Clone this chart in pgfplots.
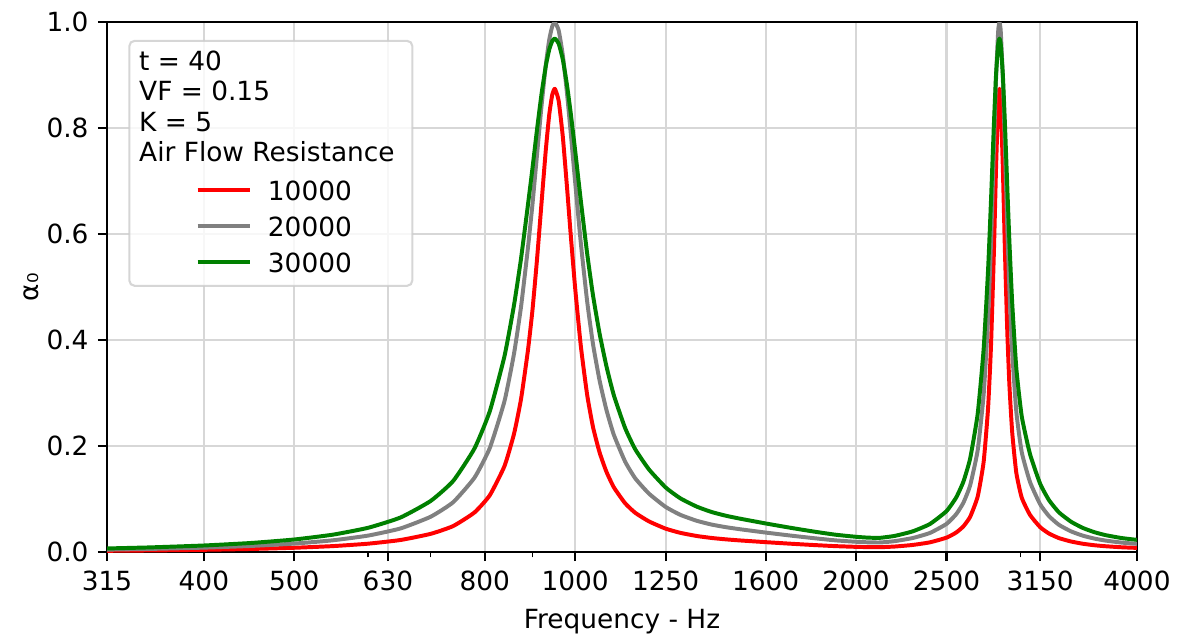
\documentclass[border=0pt]{standalone}
\usepackage{fontspec}
\setmainfont{DejaVu Sans}
\usepackage{pgfplots}
\pgfplotsset{compat=1.18}
\usepackage{pgfplotstable}
\definecolor{gridc}{RGB}{215,215,215}
\definecolor{mplgreen}{RGB}{0,128,0}
\definecolor{mplgray}{RGB}{128,128,128}
\definecolor{legedge}{RGB}{204,204,204}

\pgfplotstableread{
f     red      gray    green
315   0.00225  0.00449 0.00672
350   0.00291  0.00581 0.00869
400   0.00413  0.00823 0.01229
450   0.00577  0.01148 0.01711
500   0.00800  0.01589 0.02362
550   0.01115  0.02210 0.03275
600   0.01571  0.03101 0.04573
650   0.02269  0.04452 0.06519
700   0.03423  0.06652 0.09626
740   0.04895  0.09396 0.1340
780   0.07464  0.1403  0.1954
810   0.1071   0.1962  0.2657
840   0.1623   0.2850  0.3699
860   0.2233   0.3748  0.4665
875   0.2890   0.4633  0.5543
890   0.3808   0.5742  0.6553
900   0.4570   0.6568  0.7246
910   0.5511   0.7486  0.7964
920   0.6557   0.8395  0.8627
930   0.7580   0.9189  0.9170
938   0.8257   0.9670  0.9484
945   0.8631   0.9922  0.9644
951   0.8742   0.9995  0.9690
960   0.8519   0.9847  0.9597
970   0.7832   0.9372  0.9291
980   0.6886   0.8660  0.8812
989   0.5991   0.7917  0.8284
1000  0.4973   0.6973  0.7570
1014  0.3885   0.5829  0.6628
1030  0.2965   0.4728  0.5633
1045  0.2356   0.3920  0.4841
1062  0.1880   0.3238  0.4124
1080  0.1517   0.2685  0.3511
1100  0.1222   0.2213  0.2960
1131  0.0921   0.1708  0.2342
1160  0.0738   0.1388  0.1935
1200  0.0577   0.1100  0.1556
1250  0.0441   0.0851  0.1219
1296  0.0362   0.0702  0.1014
1350  0.0302   0.0589  0.0856
1400  0.0265   0.0518  0.0755
1450  0.0239   0.0469  0.0685
1500  0.0219   0.0431  0.0631
1600  0.0186   0.0367  0.0539
1700  0.0157   0.0311  0.0458
1800  0.0132   0.0262  0.0387
1900  0.0111   0.0220  0.0327
2000  0.00974  0.0193  0.0287
2060  0.00921  0.0183  0.0271
2122  0.00908  0.0180  0.0268
2200  0.01032  0.0205  0.0304
2300  0.01335  0.0264  0.0390
2400  0.01827  0.0360  0.0529
2500  0.0271   0.0530  0.0772
2560  0.0367   0.0712  0.1027
2606  0.0483   0.0928  0.1325
2650  0.0663   0.1256  0.1762
2700  0.1047   0.1922  0.2608
2740  0.1703   0.2973  0.3834
2770  0.2713   0.4402  0.5321
2790  0.3885   0.5829  0.6628
2810  0.5650   0.7613  0.8060
2825  0.7240   0.8935  0.9000
2840  0.8494   0.9831  0.9586
2849  0.8742   0.9995  0.9690
2858  0.8494   0.9831  0.9586
2873  0.7240   0.8935  0.9000
2888  0.5650   0.7613  0.8060
2905  0.4128   0.6099  0.6858
2920  0.3142   0.4951  0.5843
2940  0.2259   0.3785  0.4703
2970  0.1495   0.2650  0.3471
3010  0.1025   0.1884  0.2561
3072  0.0701   0.1322  0.1849
3150  0.0469   0.0901  0.1288
3220  0.0348   0.0676  0.0977
3300  0.0262   0.0512  0.0747
3400  0.0198   0.0389  0.0571
3500  0.0156   0.0308  0.0454
3600  0.0128   0.0254  0.0375
3700  0.0109   0.0216  0.0319
3850  0.00896  0.0178  0.0264
4000  0.00775  0.0154  0.0229
}\datatable

\begin{document}
\begin{tikzpicture}
\path[use as bounding box] (-40.55pt,-32.97pt) rectangle (407.37pt,209.18pt);
\begin{axis}[
  name=ax, at={(0,0)}, anchor=south west,
  scale only axis, width=390.3pt, height=200.8pt,
  xmode=log, xmin=315, xmax=4000, ymin=0, ymax=1,
  xtick={315,400,500,630,800,1000,1250,1600,2000,2500,3150,4000},
  xticklabels={315,400,500,630,800,1000,1250,1600,2000,2500,3150,4000},
  minor xtick={600,700,900,3000},
  ytick={0,0.2,0.4,0.6,0.8,1.0},
  yticklabels={0.0,0.2,0.4,0.6,0.8,1.0},
  /pgf/number format/assume math mode=true,
  tick align=outside,
  xtick pos=bottom, ytick pos=left,
  major tick length=3.5pt, minor tick length=2pt,
  major tick style={line width=0.8pt, black},
  minor tick style={line width=0.6pt, black},
  grid=major,
  major grid style={gridc, line width=0.8pt},
  axis line style={line width=0.8pt, black},
  tick label style={font=\fontsize{10}{12}\selectfont},
  xlabel={Frequency - Hz},
  ylabel={α₀},
  label style={font=\fontsize{10}{12}\selectfont},
  xlabel style={at={(axis description cs:0.5,-0.1076)}, anchor=north, inner sep=0pt},
  ylabel style={at={(axis description cs:-0.0670,0.5)}, anchor=base, inner sep=0pt},
  legend style={at={(0,1)}, anchor=north west, xshift=33.61pt, yshift=-60.14pt,
    draw=none, fill=none, inner sep=0pt, outer sep=0pt,
    row sep=6.35pt, column sep=5.9pt,
    font=\fontsize{10}{12}\selectfont,
    nodes={inner sep=0pt, outer sep=0pt, text height=7.29pt, text depth=0pt}},
  legend cell align=left,
  legend image code/.code={\path[draw=none, fill=none] (0pt,-3.645pt) -- (0pt,3.645pt); \draw[#1] (0pt,0pt) -- (19.97pt,0pt);},
]
\addplot[red, line width=1.5pt, line join=round, smooth, tension=0.3] table[x=f, y=red] {\datatable};
\addlegendentry{10000}
\addplot[mplgray, line width=1.5pt, line join=round, smooth, tension=0.3] table[x=f, y=gray] {\datatable};
\addlegendentry{20000}
\addplot[mplgreen, line width=1.5pt, line join=round, smooth, tension=0.3] table[x=f, y=green] {\datatable};
\addlegendentry{30000}
\draw[legedge, line width=0.8pt, fill=white, opacity=0.8, rounded corners=2pt]
  ([shift={(8.45pt,-7.09pt)}]rel axis cs:0,1) rectangle ([shift={(115.7pt,-99.93pt)}]rel axis cs:0,1);
\node[anchor=base west, inner sep=0pt] at ([shift={(12.0pt,-18.19pt)}]rel axis cs:0,1) {t = 40};
\node[anchor=base west, inner sep=0pt] at ([shift={(12.0pt,-29.77pt)}]rel axis cs:0,1) {VF = 0.15};
\node[anchor=base west, inner sep=0pt] at ([shift={(12.0pt,-41.35pt)}]rel axis cs:0,1) {K = 5};
\node[anchor=base west, inner sep=0pt] at ([shift={(12.0pt,-52.93pt)}]rel axis cs:0,1) {Air Flow Resistance};
\end{axis}
\end{tikzpicture}
\end{document}
